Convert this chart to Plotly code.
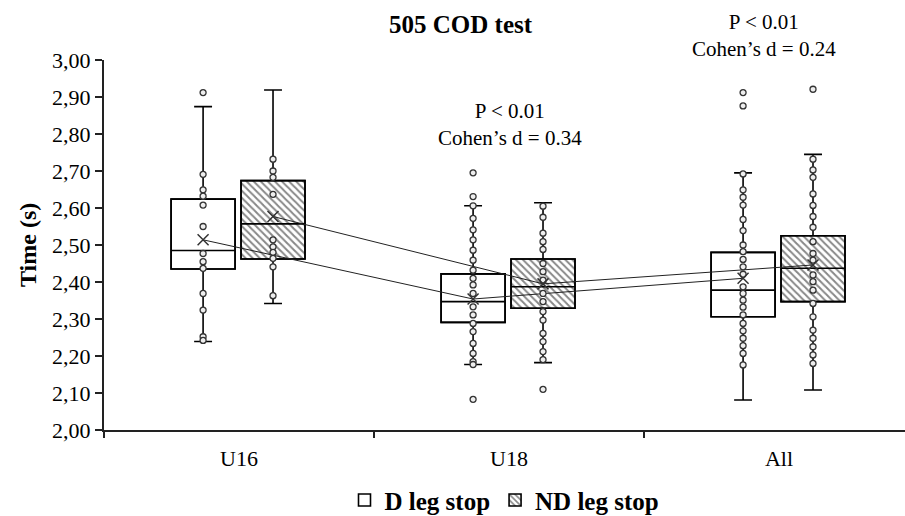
import plotly.graph_objects as go

categories = ["U16", "U18", "All"]

# D leg stop box statistics
q1_D = [2.435, 2.291, 2.306]
med_D = [2.485, 2.347, 2.378]
q3_D = [2.624, 2.422, 2.480]
lo_D = [2.239, 2.177, 2.081]
hi_D = [2.874, 2.606, 2.695]
mean_D = [2.514, 2.354, 2.410]

# ND leg stop box statistics
q1_ND = [2.462, 2.329, 2.347]
med_ND = [2.557, 2.387, 2.437]
q3_ND = [2.674, 2.462, 2.525]
lo_ND = [2.342, 2.182, 2.108]
hi_ND = [2.919, 2.614, 2.745]
mean_ND = [2.577, 2.395, 2.446]

# individual observations
pts_D_U16 = [2.912, 2.691, 2.649, 2.632, 2.608, 2.550, 2.477, 2.455, 2.437, 2.369, 2.324, 2.252, 2.242]
pts_D_U18 = [2.695, 2.631, 2.606, 2.572, 2.541, 2.514, 2.486, 2.459, 2.432, 2.410, 2.392, 2.369,
             2.333, 2.311, 2.288, 2.266, 2.234, 2.207, 2.185, 2.177, 2.083]
pts_D_All = [2.912, 2.876, 2.692, 2.649, 2.629, 2.608, 2.569, 2.539, 2.500, 2.482, 2.461, 2.441,
             2.421, 2.387, 2.369, 2.351, 2.332, 2.311, 2.288, 2.268, 2.248, 2.228, 2.207, 2.176]
pts_ND_U16 = [2.732, 2.700, 2.683, 2.637, 2.514, 2.495, 2.480, 2.464, 2.441, 2.363]
pts_ND_U18 = [2.605, 2.575, 2.532, 2.509, 2.488, 2.450, 2.428, 2.405, 2.369, 2.347, 2.320,
              2.297, 2.261, 2.239, 2.212, 2.190, 2.110]
pts_ND_All = [2.921, 2.732, 2.703, 2.683, 2.638, 2.607, 2.577, 2.548, 2.509, 2.477, 2.459, 2.419,
              2.401, 2.378, 2.342, 2.306, 2.270, 2.248, 2.225, 2.203, 2.180]

pts_D = [pts_D_U16, pts_D_U18, pts_D_All]
pts_ND = [pts_ND_U16, pts_ND_U18, pts_ND_All]

series_names = ["<b>D leg stop</b>", "<b>ND leg stop</b>"]
annot_texts = ["P < 0.01<br>Cohen\u2019s d = 0.34", "P < 0.01<br>Cohen\u2019s d = 0.24"]
title_text = "<b>505 COD test</b>"
y_title = "<b>Time (s)</b>"

# ---- styling ----
OFF_D, OFF_ND = -0.133, 0.126
BW = 0.237
FONT = "Liberation Serif, Times New Roman, Times, serif"
idx = list(range(len(categories)))
xD = [i + OFF_D for i in idx]
xND = [i + OFF_ND for i in idx]

fig = go.Figure()

# box bodies as bars (for fill + hatch + legend)
fig.add_trace(go.Bar(
    x=xD, y=[b - a for a, b in zip(q1_D, q3_D)], base=q1_D, width=BW,
    marker=dict(color="white", line=dict(color="black", width=1.6)),
    name=series_names[0], showlegend=True, hoverinfo="skip"))
fig.add_trace(go.Bar(
    x=xND, y=[b - a for a, b in zip(q1_ND, q3_ND)], base=q1_ND, width=BW,
    marker=dict(color="white", line=dict(color="black", width=1.6),
                pattern=dict(shape="\\", size=5, solidity=0.4, fgcolor="#111", bgcolor="white")),
    name=series_names[1], showlegend=True, hoverinfo="skip"))

# box outlines, medians, whiskers
for xs, q1, med, q3, lo, hi in [(xD, q1_D, med_D, q3_D, lo_D, hi_D),
                               (xND, q1_ND, med_ND, q3_ND, lo_ND, hi_ND)]:
    fig.add_trace(go.Box(
        x=xs, q1=q1, median=med, q3=q3, lowerfence=lo, upperfence=hi,
        width=BW, whiskerwidth=0.28, fillcolor="rgba(0,0,0,0)",
        line=dict(color="black", width=1.6), boxpoints=False,
        showlegend=False, hoverinfo="skip"))

# mean connecting lines
fig.add_trace(go.Scatter(x=xD, y=mean_D, mode="lines",
                         line=dict(color="#222", width=1), showlegend=False, hoverinfo="skip"))
fig.add_trace(go.Scatter(x=xND, y=mean_ND, mode="lines",
                         line=dict(color="#222", width=1), showlegend=False, hoverinfo="skip"))

# individual points
for xs, groups in [(xD, pts_D), (xND, pts_ND)]:
    px, py = [], []
    for xv, g in zip(xs, groups):
        px += [xv] * len(g)
        py += g
    fig.add_trace(go.Scatter(
        x=px, y=py, mode="markers",
        marker=dict(symbol="circle", size=6, color="#eee",
                    line=dict(color="#333", width=1.3)),
        showlegend=False, hoverinfo="skip"))

# means
fig.add_trace(go.Scatter(x=xD + xND, y=mean_D + mean_ND, mode="markers",
                         marker=dict(symbol="x-thin-open", size=11, color="#333",
                                     line=dict(color="#333", width=1.5)),
                         showlegend=False, hoverinfo="skip"))

fig.update_layout(
    width=905, height=516,
    margin=dict(l=104, r=0, t=60, b=86, autoexpand=False),
    paper_bgcolor="white", plot_bgcolor="white",
    barmode="overlay", separators=", ",
    font=dict(family=FONT, size=22, color="black"),
    showlegend=True,
    legend=dict(orientation="h", x=0.5, xanchor="center", y=-0.19, yanchor="middle",
                font=dict(family=FONT, size=25, color="black"),
                itemwidth=30, traceorder="normal", bgcolor="rgba(0,0,0,0)"),
    xaxis=dict(range=[-0.5, 2.4667], tickvals=idx, ticktext=categories, ticks="",
               showline=True, linecolor="#222", linewidth=2, showgrid=False, zeroline=False,
               ticklabelstandoff=8, automargin=False,
               minor=dict(tickvals=[-0.5, 0.5, 1.5], ticks="outside", ticklen=6,
                          tickcolor="#222", tickwidth=1.5, showgrid=False)),
    yaxis=dict(range=[2.0, 3.0], dtick=0.1, tick0=2.0, tickformat=".2f",
               ticks="outside", ticklen=7, tickcolor="#222", tickwidth=1.5, automargin=False,
               showline=True, linecolor="#222", linewidth=2, showgrid=False, zeroline=False),
    annotations=[
        dict(text=title_text, xref="paper", yref="paper", x=0.446, y=1.097,
             xanchor="center", yanchor="middle",
             showarrow=False, font=dict(family=FONT, size=25, color="black")),
        dict(text=y_title, xref="paper", yref="paper", x=-0.0949, y=0.5, textangle=-90,
             xanchor="center", yanchor="middle",
             showarrow=False, font=dict(family=FONT, size=24, color="black")),
        dict(text=annot_texts[0], xref="paper", yref="paper", x=0.507, y=0.826,
             xanchor="center", yanchor="middle",
             showarrow=False, font=dict(family=FONT, size=21, color="black")),
        dict(text=annot_texts[1], xref="paper", yref="paper", x=0.824, y=1.066,
             xanchor="center", yanchor="middle",
             showarrow=False, font=dict(family=FONT, size=21, color="black")),
    ],
)

fig.write_html("out.html")
